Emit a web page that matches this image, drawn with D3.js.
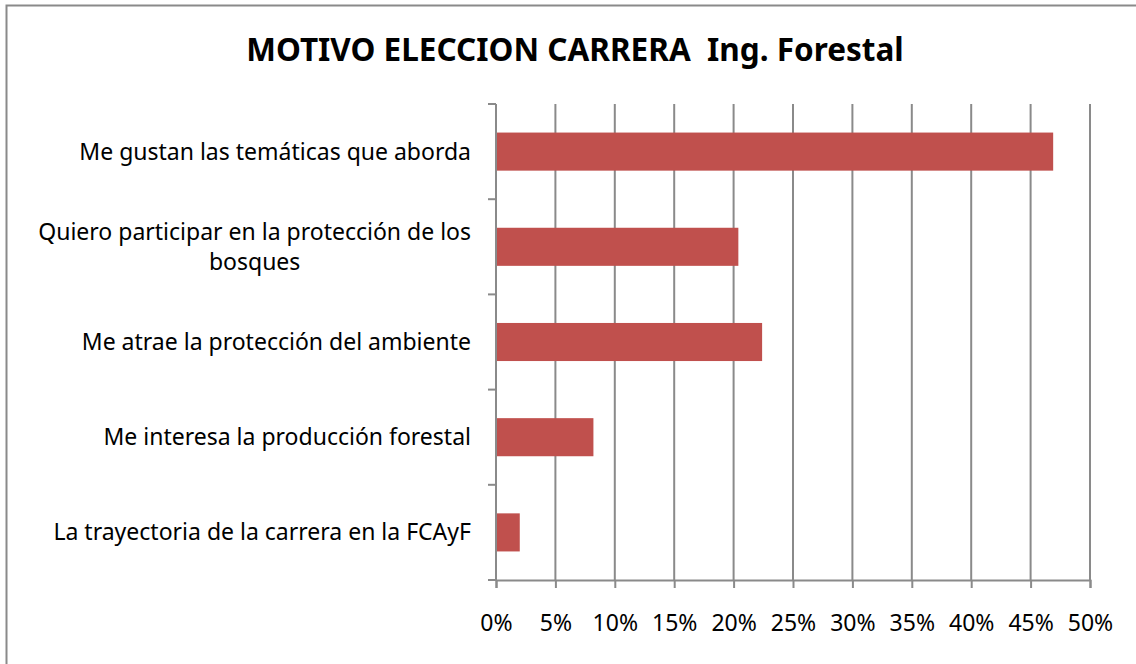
<!DOCTYPE html>
<html>
<head>
<meta charset="utf-8">
<script src="https://cdn.jsdelivr.net/npm/d3@7"></script>
<style>
  body { margin: 0; background: #fff; }
  text { font-family: "Noto Sans", sans-serif; fill: #000; }
</style>
</head>
<body>
<script>
let width = 1136
let height = 664

// chart data (share of answers)
let categories = [
    "Me gustan las temáticas que aborda",
    "Quiero participar en la protección de los bosques",
    "Me atrae la protección del ambiente",
    "Me interesa la producción forestal",
    "La trayectoria de la carrera en la FCAyF"
]
let values = [0.469, 0.204, 0.224, 0.082, 0.020]
let tickValues = [0, 0.05, 0.1, 0.15, 0.2, 0.25, 0.3, 0.35, 0.4, 0.45, 0.5]
let title = "MOTIVO ELECCION CARRERA  Ing. Forestal"

let margin = {top: 104, right: 46, bottom: 84, left: 496}

let svg = d3.select("body")
    .append("svg")
    .attr("width", width)
    .attr("height", height)

// outer frame
svg.append("rect")
    .attr("x", 6.5)
    .attr("y", 5.5)
    .attr("width", 1160)
    .attr("height", 700)
    .attr("fill", "none")
    .attr("stroke", "#8a8a8a")
    .attr("stroke-width", 2)

svg.append("text")
    .attr("x", 575)
    .attr("y", 61)
    .attr("text-anchor", "middle")
    .style("font-size", "31.5px")
    .style("font-weight", "bold")
    .style("white-space", "pre")
    .text(title)

let x = d3.scaleLinear()
    .domain([0, 0.5])
    .range([margin.left, width - margin.right])

let y = d3.scaleBand()
    .domain(categories)
    .range([margin.top, height - margin.bottom])
    .paddingInner(0.6)
    .paddingOuter(0.3)

let g = svg.append("g")

// vertical gridlines
g.selectAll("line.grid")
    .data(tickValues.slice(1))
    .enter()
    .append("line")
    .attr("class", "grid")
    .attr("x1", d => x(d))
    .attr("x2", d => x(d))
    .attr("y1", margin.top)
    .attr("y2", height - margin.bottom)
    .attr("stroke", "#8a8a8a")
    .attr("stroke-width", 2)

// bars
g.selectAll("rect.bar")
    .data(values)
    .enter()
    .append("rect")
    .attr("class", "bar")
    .attr("x", x(0))
    .attr("y", (d, i) => y(categories[i]))
    .attr("width", d => x(d) - x(0))
    .attr("height", y.bandwidth())
    .attr("fill", "#c0504d")

// x axis
let xAxis = d3.axisBottom(x)
    .tickValues(tickValues)
    .tickFormat(d3.format(".0%"))
    .tickSize(8)
    .tickPadding(27)

let gx = svg.append("g")
    .attr("transform", `translate(0,${height - margin.bottom})`)
    .call(xAxis)
gx.select(".domain").attr("stroke", "#8a8a8a").attr("stroke-width", 2)
gx.selectAll(".tick line").attr("stroke", "#8a8a8a").attr("stroke-width", 2)
gx.selectAll(".tick text")
    .style("font-size", "23px")
    .style("font-family", "'Noto Sans', sans-serif")
    .attr("fill", "#000")

// y axis: line + ticks on category boundaries
let step = y.step()
let bounds = d3.range(categories.length + 1).map(i => margin.top + i * step)

svg.append("line")
    .attr("x1", x(0)).attr("x2", x(0))
    .attr("y1", margin.top).attr("y2", height - margin.bottom)
    .attr("stroke", "#8a8a8a")
    .attr("stroke-width", 2)

svg.selectAll("line.ytick")
    .data(bounds)
    .enter()
    .append("line")
    .attr("class", "ytick")
    .attr("x1", x(0) - 8).attr("x2", x(0))
    .attr("y1", d => d).attr("y2", d => d)
    .attr("stroke", "#8a8a8a")
    .attr("stroke-width", 2)

// category labels, wrapped and centered as a block, right edge near the axis
let labelRight = x(0) - 25
let maxW = 460
let lineH = 30

categories.forEach(function(c) {
    let t = svg.append("text")
        .attr("text-anchor", "middle")
        .style("font-size", "23px")
    let words = c.split(" ")
    let lines = []
    let cur = []
    let probe = t.append("tspan")
    words.forEach(function(w) {
        probe.text(cur.concat([w]).join(" "))
        if (probe.node().getComputedTextLength() > maxW && cur.length) {
            lines.push(cur.join(" "))
            cur = [w]
        } else {
            cur.push(w)
        }
    })
    lines.push(cur.join(" "))
    let widths = lines.map(function(l) {
        probe.text(l)
        return probe.node().getComputedTextLength()
    })
    probe.remove()
    let blockW = d3.max(widths)
    let cx = labelRight - blockW / 2
    let cy = y(c) + y.bandwidth() / 2
    let y0 = cy - (lines.length - 1) * lineH / 2
    lines.forEach(function(l, i) {
        t.append("tspan")
            .attr("x", cx)
            .attr("y", y0 + i * lineH)
            .attr("dy", "0.35em")
            .text(l)
    })
})
</script>
</body>
</html>
